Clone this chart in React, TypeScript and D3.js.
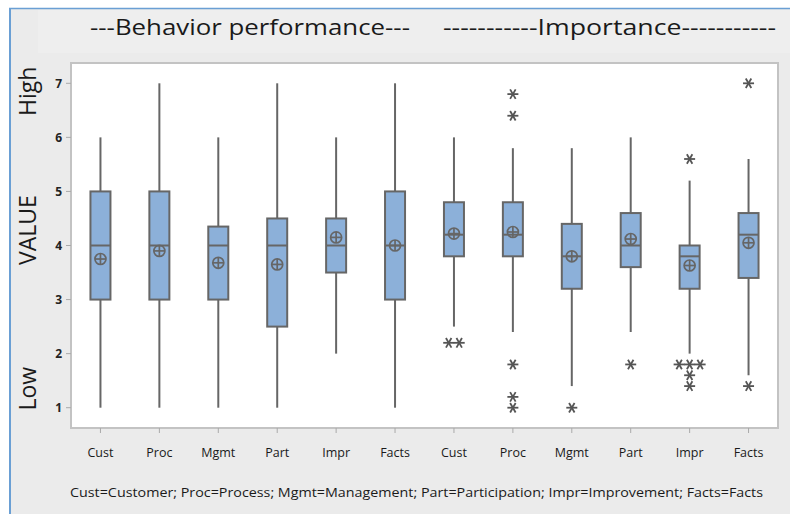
import React from 'react';
import * as d3 from 'd3';

// categories and tick labels
const categories = ['Cust', 'Proc', 'Mgmt', 'Part', 'Impr', 'Facts'];
const sections = ['---Behavior performance---', '-----------Importance-----------'];
const yTicks = [1, 2, 3, 4, 5, 6, 7];
const caption = 'Cust=Customer;  Proc=Process; Mgmt=Management; Part=Participation; Impr=Improvement; Facts=Facts';

// behavior performance
const behLow = [1, 1, 1, 1, 2, 1];
const behQ1 = [3, 3, 3, 2.5, 3.5, 3];
const behMed = [4, 4, 4, 4, 4, 4];
const behQ3 = [5, 5, 4.35, 4.5, 4.5, 5];
const behHigh = [6, 7, 6, 7, 6, 7];
const behMean = [3.75, 3.9, 3.68, 3.65, 4.15, 4.0];
const behOutliers: number[][] = [[], [], [], [], [], []];

// importance
const impLow = [2.5, 2.4, 1.4, 2.4, 2.0, 1.6];
const impQ1 = [3.8, 3.8, 3.2, 3.6, 3.2, 3.4];
const impMed = [4.2, 4.2, 3.8, 4.0, 3.8, 4.2];
const impQ3 = [4.8, 4.8, 4.4, 4.6, 4.0, 4.6];
const impHigh = [6, 5.8, 5.8, 6, 5.2, 5.6];
const impMean = [4.22, 4.25, 3.8, 4.12, 3.63, 4.05];
const impOutliers = [[2.2, 2.2], [6.8, 6.4, 1.8, 1.2, 1.0], [1.0], [1.8], [5.6, 1.8, 1.8, 1.8, 1.6, 1.4], [7.0, 1.4]];

const boxes = [
  ...categories.map((c, i) => ({ key: 'b' + i, label: c, low: behLow[i], q1: behQ1[i], med: behMed[i], q3: behQ3[i], high: behHigh[i], mean: behMean[i], out: behOutliers[i] })),
  ...categories.map((c, i) => ({ key: 'i' + i, label: c, low: impLow[i], q1: impQ1[i], med: impMed[i], q3: impQ3[i], high: impHigh[i], mean: impMean[i], out: impOutliers[i] })),
];

const W = 790, H = 514;
const frame = { left: 71, top: 63, right: 778, bottom: 428 };
const stroke = '#666';
const boxFill = '#8cb0d9';
const boxW = 20;

function Asterisk({ x, y }: { x: number; y: number }) {
  const r = 5.5;
  return (
    <g stroke="#555" strokeWidth={1.8}>
      {[0, 60, 120].map(a => {
        const dx = r * Math.cos((a * Math.PI) / 180);
        const dy = r * Math.sin((a * Math.PI) / 180);
        return <line key={a} x1={x - dx} y1={y - dy} x2={x + dx} y2={y + dy} />;
      })}
    </g>
  );
}

export default function App() {
  const x = d3.scaleBand<string>().domain(boxes.map(b => b.key)).range([frame.left, frame.right]);
  const y = d3.scaleLinear().domain([1, 7]).range([407.7, 83.3]);
  const cx = (k: string) => (x(k) as number) + x.bandwidth() / 2;

  return (
    <svg width={W} height={H} style={{ position: 'absolute', left: 0, top: 0 }} fontFamily="'Open Sans', sans-serif">
      <rect x={0} y={0} width={W} height={H} fill="#fff" />
      <rect x={9} y={8} width={W - 9} height={H - 8} fill="#ebebeb" />
      <rect x={38} y={10} width={W - 38} height={43} fill="#eeeeee" />
      <line x1={9} y1={8.5} x2={W} y2={8.5} stroke="#6a9fd4" strokeWidth={1.5} />
      <line x1={10} y1={8} x2={10} y2={H} stroke="#6a9fd4" strokeWidth={2} />

      {/* titles */}
      <text x={90} y={35} fontSize={22} fill="#1a1a1a" textLength={320} lengthAdjust="spacingAndGlyphs">{sections[0]}</text>
      <text x={443} y={35} fontSize={22} fill="#1a1a1a" textLength={333} lengthAdjust="spacingAndGlyphs">{sections[1]}</text>

      {/* y labels */}
      <text transform="translate(36,230) rotate(-90)" textAnchor="middle" fontSize={23} fill="#1a1a1a">VALUE</text>
      <text transform={`translate(36,${y(6.85)}) rotate(-90)`} textAnchor="middle" fontSize={23} fill="#1a1a1a">High</text>
      <text transform={`translate(36,${y(1.35)}) rotate(-90)`} textAnchor="middle" fontSize={23} fill="#1a1a1a">Low</text>

      {/* frame */}
      <rect x={frame.left} y={frame.top} width={frame.right - frame.left} height={frame.bottom - frame.top} fill="#fff" stroke="#c3c3c3" strokeWidth={2} />

      {/* y axis */}
      {yTicks.map(t => (
        <g key={t}>
          <line x1={frame.left - 5} x2={frame.left} y1={y(t)} y2={y(t)} stroke="#aaa" />
          <text x={62} y={y(t)} dy="0.35em" textAnchor="end" fontSize={12} fontWeight="bold" fill="#222">{t}</text>
        </g>
      ))}

      {/* x axis */}
      {boxes.map(b => (
        <g key={b.key}>
          <line x1={cx(b.key)} x2={cx(b.key)} y1={frame.bottom} y2={frame.bottom + 5} stroke="#aaa" />
          <text x={cx(b.key)} y={457} textAnchor="middle" fontSize={12.5} fill="#1a1a1a">{b.label}</text>
        </g>
      ))}

      {/* boxes */}
      {boxes.map(b => {
        const c = cx(b.key);
        const counts = new Map<number, number>();
        b.out.forEach(v => counts.set(v, (counts.get(v) || 0) + 1));
        const seen = new Map<number, number>();
        return (
          <g key={b.key}>
            <line x1={c} x2={c} y1={y(b.low)} y2={y(b.q1)} stroke={stroke} strokeWidth={2} />
            <line x1={c} x2={c} y1={y(b.q3)} y2={y(b.high)} stroke={stroke} strokeWidth={2} />
            <rect x={c - boxW / 2} y={y(b.q3)} width={boxW} height={y(b.q1) - y(b.q3)} fill={boxFill} stroke={stroke} strokeWidth={2} />
            <line x1={c - boxW / 2} x2={c + boxW / 2} y1={y(b.med)} y2={y(b.med)} stroke={stroke} strokeWidth={2} />
            <g stroke={stroke} strokeWidth={1.7} fill="none">
              <circle cx={c} cy={y(b.mean)} r={5.5} />
              <line x1={c - 5.5} x2={c + 5.5} y1={y(b.mean)} y2={y(b.mean)} />
              <line x1={c} x2={c} y1={y(b.mean) - 5.5} y2={y(b.mean) + 5.5} />
            </g>
            {b.out.map((v, i) => {
              const n = counts.get(v) || 1;
              const k = seen.get(v) || 0;
              seen.set(v, k + 1);
              const off = (k - (n - 1) / 2) * 10.5;
              return <Asterisk key={i} x={c + off} y={y(v)} />;
            })}
          </g>
        );
      })}

      {/* caption */}
      <text x={70} y={497} fontSize={13} fill="#1a1a1a" textLength={693} lengthAdjust="spacingAndGlyphs">{caption}</text>
    </svg>
  );
}
